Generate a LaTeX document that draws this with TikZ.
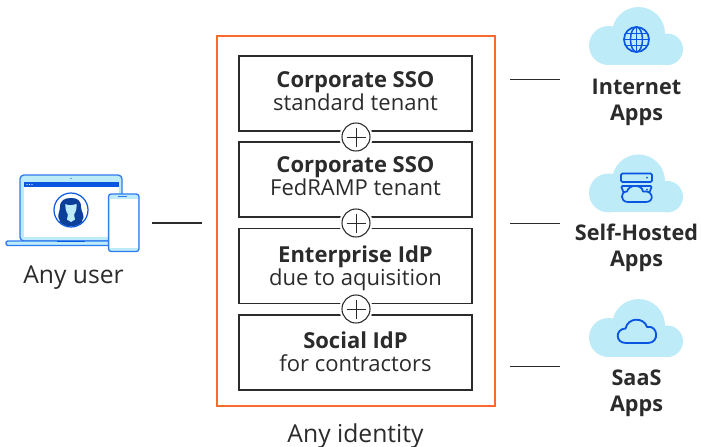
\documentclass[tikz,border=0pt]{standalone}
\usepackage{fontspec}
\setmainfont{Open Sans}
\definecolor{ink}{HTML}{2B2B2B}
\definecolor{orangeb}{HTML}{F96A2C}
\definecolor{sky}{HTML}{BDEBF8}
\definecolor{blue1}{HTML}{0A56E0}
\definecolor{blue2}{HTML}{2E7BF0}
\definecolor{navy}{HTML}{0B3F9A}
\newcommand{\lifttext}{\rule[-8pt]{0pt}{1pt}}
\newcommand{\droptext}[1]{\rule{0pt}{#1pt}}
\tikzset{
 idbox/.style={draw=ink,line width=1.2pt,fill=white,minimum width=174.5pt,minimum height=56pt,inner sep=0pt,align=center,text=ink,font=\fontsize{16.5}{17.25}\selectfont},
 plusc/.style={circle,draw=ink,line width=.8pt,fill=white,minimum size=21pt,inner sep=0pt},
 gapc/.style={circle,fill=white,minimum size=25pt,inner sep=0pt},
 link/.style={draw=ink,line width=.9pt},
 lab/.style={text=ink,font=\fontsize{18.5}{20}\selectfont,inner sep=0pt},
 applab/.style={text=ink,font=\bfseries\fontsize{16.2}{19.5}\selectfont,align=center,inner sep=0pt},
 icon/.style={draw=blue1,line width=1.3pt,line join=round},
 dev/.style={draw=blue2,line width=1pt},
}
\newcommand{\cloudshape}[1]{%
 \begin{scope}[yshift=#1]
  \fill[sky] (608.5,45.5) circle[radius=19.5];
  \fill[sky] (667.25,49.25) circle[radius=15.75];
  \fill[sky] (638.5,33.5) circle[radius=26.5];
  \fill[sky] (608.5,45) rectangle (667,65);
 \end{scope}}
\begin{document}
\begin{tikzpicture}[x=.75pt,y=-.75pt]
\useasboundingbox (0,0) rectangle (701,447);
% orange frame
\node[draw=orangeb,line width=.85pt,minimum width=208.5pt,minimum height=277.5pt,inner sep=0pt] (frame) at (356,221) {};
% identity boxes
\node[idbox] (b1) at (355.5,93.5) {\droptext{16.5}\textbf{Corporate SSO}\\standard tenant\lifttext};
\node[idbox] (b2) at (355.5,179.5) {\droptext{15}\textbf{Corporate SSO}\\FedRAMP tenant\lifttext};
\node[idbox] (b3) at (355.5,266) {\droptext{19.3}\textbf{Enterprise IdP}\\due to aquisition\lifttext};
\node[idbox] (b4) at (355.5,352.5) {\droptext{18.5}\textbf{Social IdP}\\for contractors\lifttext};
\foreach \n/\yy in {p1/137,p2/223,p3/309}{
 \node[gapc] at (356,\yy) {};
 \node[plusc] (\n) at (356,\yy) {};
 \draw[ink,line width=.75pt] (346.5,\yy) -- (365.5,\yy) (356,\yy-9.5) -- (356,\yy+9.5);
}
\node[lab,anchor=base] (anyid) at (355.5,442) {Any identity};
% connectors
\coordinate (ua) at (152,223); \coordinate (ub) at (202,223);
\coordinate (la) at (510,79.5); \coordinate (lb) at (560,79.5);
\coordinate (ma) at (510,223.5); \coordinate (mb) at (560,223.5);
\coordinate (sa) at (510,366.5); \coordinate (sb) at (560,366.5);
\draw[link] (ua) -- (ub);
\draw[link] (la) -- (lb);
\draw[link] (ma) -- (mb);
\draw[link] (sa) -- (sb);
% clouds
\cloudshape{0pt}
\cloudshape{-110.6pt}
\cloudshape{-219pt}
% globe
\begin{scope}[shift={(636.5,39.5)}]
 \draw[icon] (0,0) circle[radius=12.5];
 \draw[icon,line width=1.1pt] (0,-12.5) -- (0,12.5) (-12.5,0) -- (12.5,0) (-10.8,-6) -- (10.8,-6) (-10.8,6) -- (10.8,6);
 \draw[icon,line width=1.1pt] (0,0) circle[x radius=6,y radius=12.5];
\end{scope}
% server + cloud
\begin{scope}
 \draw[icon,rounded corners=1pt] (621,173.5) rectangle (652,182);
 \fill[blue1] (647,177.5) circle[radius=1];
 \draw[icon,rounded corners=1pt] (625,196) -- (621,186) -- (652,186) -- (648,196);
 \fill[blue1] (647,189.5) circle[radius=1];
 \draw[icon,fill=sky] (628,202)
   .. controls (620,202) and (620,191.5) .. (627,191.5)
   .. controls (629,184) and (642,184) .. (643,191.5)
   .. controls (653,189.5) and (655,202) .. (646,202) -- cycle;
\end{scope}
% saas cloud
\draw[icon,line width=1.4pt] (626,343)
   .. controls (615,343) and (615,329) .. (625.5,328.5)
   .. controls (628,317) and (644,317) .. (647,327)
   .. controls (658,324.5) and (660,343) .. (648,343) -- cycle;
% app labels
\node[applab,anchor=center] (t1) at (636.5,102.5) {Internet\\Apps};
\node[applab,anchor=center] (t2) at (636.5,248) {Self-Hosted\\Apps};
\node[applab,anchor=center] (t3) at (636.5,393.5) {SaaS\\Apps};
% laptop
\fill[sky,draw=blue2,line width=1pt,rounded corners=3pt] (20,241) -- (20,175) -- (122,175) -- (122,241) -- cycle;
\fill[white] (24,182) rectangle (119,237);
\fill[blue1] (24,182) rectangle (119,187);
\fill[white] (27,184.5) circle[radius=.6] (29.5,184.5) circle[radius=.6] (32,184.5) circle[radius=.6];
\fill[blue1] (71,178.5) circle[radius=.7];
\draw[dev,fill=sky,rounded corners=1.5pt] (6,241) rectangle (112,245.5);
\draw[blue1,line width=1pt] (57,241.3) -- (85,241.3);
% avatar
\begin{scope}
 \path[clip] (71,210) circle[radius=16.5];
 \fill[white] (71,210) circle[radius=17];
 \fill[navy] (60,221) .. controls (56,216) and (60,212) .. (60,207)
   .. controls (60,200) and (65,198) .. (71,198)
   .. controls (77,198) and (81,200) .. (81,207)
   .. controls (81,212) and (86,216) .. (82,221) -- cycle;
 \fill[navy] (54,228) .. controls (56,221) and (62,220) .. (71,219) .. controls (80,220) and (86,221) .. (88,228) -- cycle;
 \fill[sky] (65.5,204) .. controls (68,206) and (73,205) .. (76.5,204) .. controls (77,212) and (74,216) .. (71,216) .. controls (68,216) and (65,212) .. (65.5,204) -- cycle;
 \fill[sky] (68,214) -- (74,214) -- (75,219.5) -- (71,222) -- (67,219.5) -- cycle;
\end{scope}
\draw[blue1,line width=.9pt] (71,210) circle[radius=17];
% phone
\fill[sky,rounded corners=2pt] (108.5,194) rectangle (139,251.5);
\fill[white] (109.5,198.5) rectangle (138,248);
\draw[dev,rounded corners=2pt] (108.5,194) rectangle (139,251.5);
\draw[blue2,line width=.7pt] (118,196.6) -- (127,196.6);
\node[lab,anchor=base] (anyuser) at (73.5,283) {Any user};
\end{tikzpicture}
\end{document}
